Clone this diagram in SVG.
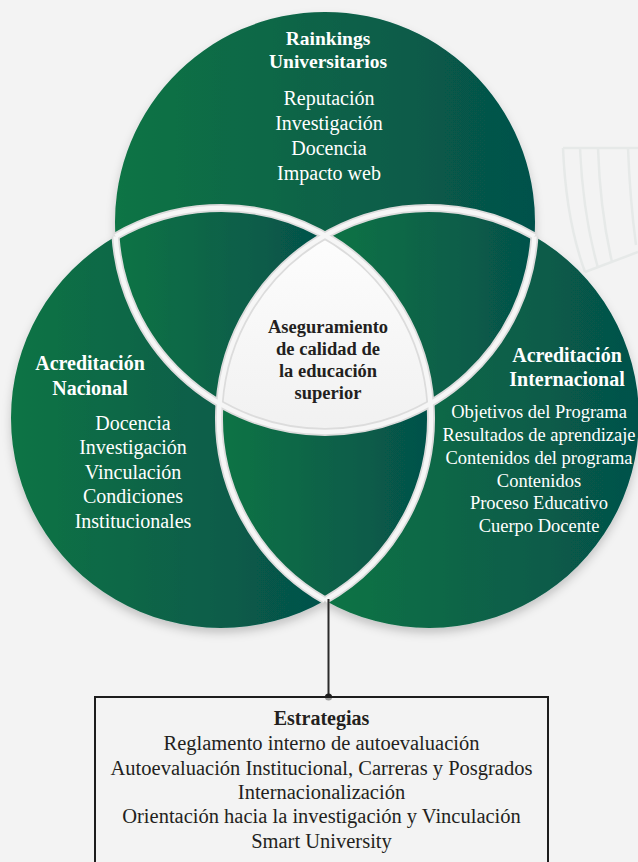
<svg xmlns="http://www.w3.org/2000/svg" width="638" height="862" viewBox="0 0 638 862">
<defs>
<linearGradient id="g" x1="0" y1="0" x2="1" y2="0">
<stop offset="0" stop-color="#0e7444"/>
<stop offset="1" stop-color="#05514b"/>
</linearGradient>
<linearGradient id="w" x1="0" y1="0" x2="0" y2="1">
<stop offset="0" stop-color="#fdfdfd"/>
<stop offset="1" stop-color="#f1f1f1"/>
</linearGradient>
<filter id="sh" x="-10%" y="-10%" width="120%" height="120%">
<feDropShadow dx="0" dy="5" stdDeviation="5" flood-color="#000" flood-opacity="0.2"/>
</filter>
<marker id="dot" markerWidth="8" markerHeight="8" refX="4" refY="4" markerUnits="userSpaceOnUse">
<circle cx="4" cy="4" r="3.6" fill="#1d1d1d"/>
</marker>
</defs>
<style>
.reg{fill:url(#g)}
.band{fill:none;stroke:#dcdcdc;stroke-width:8}
.band2{fill:none;stroke:#f6f6f6;stroke-width:4.5}
.t{font-family:"Liberation Serif","Times New Roman",serif;text-anchor:middle}
.wt{fill:#ffffff}
.b{font-weight:bold}
.dk{fill:#231f20}
.deco{fill:none;stroke:#e6e9e8;stroke-width:2.5}
</style>
<rect width="638" height="862" fill="#f3f3f3"/>
<g id="background-deco">
<path class="deco" d="M563 148 L638 148"/>
<path class="deco" d="M563 148 Q566 220 585 272"/>
<path class="deco" d="M580 148 Q583 215 598 268"/>
<path class="deco" d="M598 148 Q600 210 612 262"/>
<path class="deco" d="M628 148 Q630 200 636 245"/>
<path class="deco" d="M585 272 L638 252"/>
</g>
<g id="venn" filter="url(#sh)">
<g id="node-top">
<path class="reg" d="M115.5 236.4 A210 210 0 1 1 534.5 236.4 A210 210 0 0 0 325 235.6 A210 210 0 0 0 115.5 236.4 Z"/>
</g>
<g id="node-left">
<path class="reg" d="M115.5 236.4 A210 210 0 0 0 219.5 403.6 A210 210 0 0 0 325 600.4 A210 210 0 0 1 11 418 A210 210 0 0 1 115.5 236.4 Z"/>
</g>
<g id="node-right">
<path class="reg" d="M534.5 236.4 A210 210 0 0 1 430.5 403.6 A210 210 0 0 1 325 600.4 A210 210 0 0 0 639 418 A210 210 0 0 0 534.5 236.4 Z"/>
</g>
<g id="lens-top-left">
<path class="reg" d="M115.5 236.4 A210 210 0 0 1 325 235.6 A210 210 0 0 0 219.5 403.6 A210 210 0 0 1 115.5 236.4 Z"/>
</g>
<g id="lens-top-right">
<path class="reg" d="M534.5 236.4 A210 210 0 0 0 325 235.6 A210 210 0 0 1 430.5 403.6 A210 210 0 0 0 534.5 236.4 Z"/>
</g>
<g id="lens-bottom">
<path class="reg" d="M219.5 403.6 A210 210 0 0 0 430.5 403.6 A210 210 0 0 1 325 600.4 A210 210 0 0 1 219.5 403.6 Z"/>
</g>
<g id="node-center">
<path fill="url(#w)" d="M325 235.6 A210 210 0 0 1 430.5 403.6 A210 210 0 0 1 219.5 403.6 A210 210 0 0 1 325 235.6 Z"/>
</g>
</g>
<g id="bands">
<path class="band" d="M534.5 236.4 A210 210 0 0 1 115.5 236.4"/>
<path class="band" d="M115.5 236.4 A210 210 0 0 1 430.5 403.6 A210 210 0 0 1 325 600.4"/>
<path class="band" d="M534.5 236.4 A210 210 0 0 0 219.5 403.6 A210 210 0 0 0 325 600.4"/>
<path class="band2" d="M534.5 236.4 A210 210 0 0 1 115.5 236.4"/>
<path class="band2" d="M115.5 236.4 A210 210 0 0 1 430.5 403.6 A210 210 0 0 1 325 600.4"/>
<path class="band2" d="M534.5 236.4 A210 210 0 0 0 219.5 403.6 A210 210 0 0 0 325 600.4"/>
</g>
<g id="connectors">
<line x1="328.5" y1="599" x2="328.5" y2="697" stroke="#2a2a2a" stroke-width="2" marker-end="url(#dot)"/>
</g>
<g id="text-top" class="t wt">
<text x="328" y="45" class="b" font-size="19.5">Rainkings</text>
<text x="328" y="68" class="b" font-size="19.5">Universitarios</text>
<text x="329" y="105" font-size="20">Reputación</text>
<text x="329" y="130" font-size="20">Investigación</text>
<text x="329" y="155" font-size="20">Docencia</text>
<text x="329" y="180" font-size="20">Impacto web</text>
</g>
<g id="text-left" class="t wt">
<text x="90" y="370" class="b" font-size="20">Acreditación</text>
<text x="90" y="395" class="b" font-size="20">Nacional</text>
<text x="133" y="430" font-size="20">Docencia</text>
<text x="133" y="454" font-size="20">Investigación</text>
<text x="133" y="479" font-size="20">Vinculación</text>
<text x="133" y="503" font-size="20">Condiciones</text>
<text x="133" y="528" font-size="20">Institucionales</text>
</g>
<g id="text-right" class="t wt">
<text x="567" y="362" class="b" font-size="20">Acreditación</text>
<text x="567" y="386" class="b" font-size="20">Internacional</text>
<text x="539" y="418" font-size="18.5">Objetivos del Programa</text>
<text x="539" y="441" font-size="18.5">Resultados de aprendizaje</text>
<text x="539" y="464" font-size="18.5">Contenidos del programa</text>
<text x="539" y="487" font-size="18.5">Contenidos</text>
<text x="539" y="509" font-size="18.5">Proceso Educativo</text>
<text x="539" y="532" font-size="18.5">Cuerpo Docente</text>
</g>
<g id="text-center" class="t dk b">
<text x="328" y="333" font-size="18.5">Aseguramiento</text>
<text x="328" y="355" font-size="18.5">de calidad de</text>
<text x="328" y="377" font-size="18.5">la educación</text>
<text x="328" y="399" font-size="18.5">superior</text>
</g>
<g id="node-box">
<rect x="95" y="697" width="453" height="175" fill="#f3f3f3" fill-opacity="0.6" stroke="#1d1d1d" stroke-width="2"/>
<text x="321.5" y="725" class="t dk b" font-size="20">Estrategias</text>
<text x="321.5" y="750" class="t dk" font-size="20.5">Reglamento interno de autoevaluación</text>
<text x="321.5" y="775" class="t dk" font-size="20.5">Autoevaluación Institucional, Carreras y Posgrados</text>
<text x="321.5" y="799" class="t dk" font-size="20.5">Internacionalización</text>
<text x="321.5" y="823" class="t dk" font-size="20.5">Orientación hacia la investigación y Vinculación</text>
<text x="321.5" y="848" class="t dk" font-size="20.5">Smart University</text>
</g>
</svg>
